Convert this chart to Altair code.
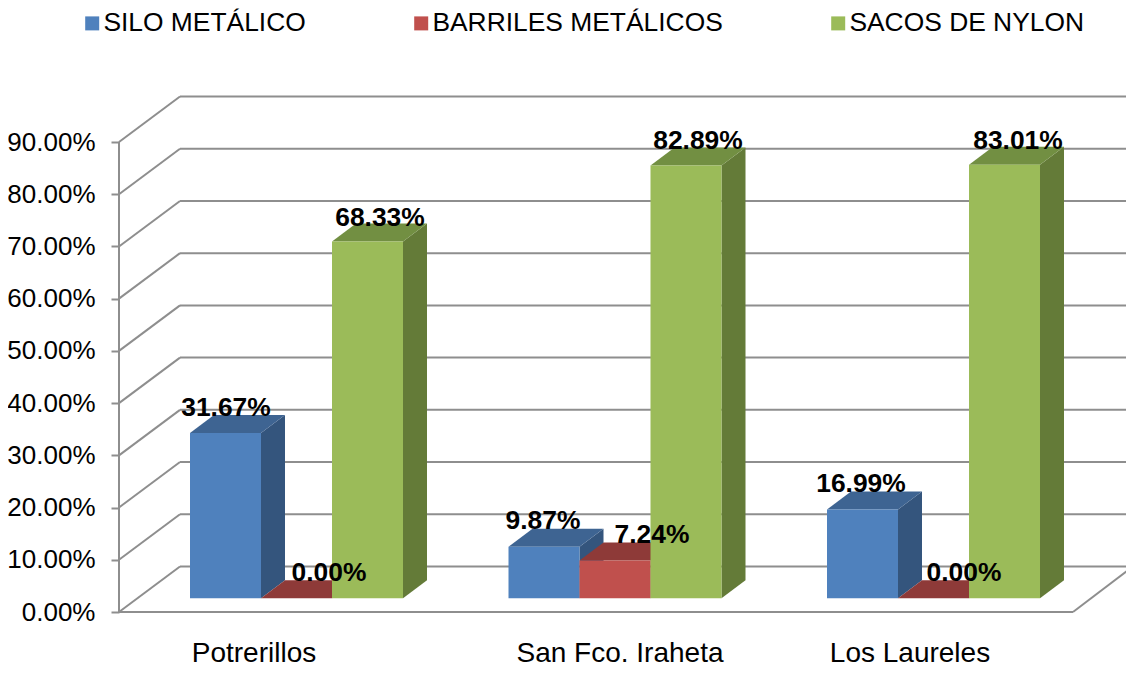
import altair as alt
import pandas as pd

categories = ["Potrerillos", "San Fco. Iraheta", "Los Laureles"]
series = ["SILO METÁLICO", "BARRILES METÁLICOS", "SACOS DE NYLON"]
silo = [31.67, 9.87, 16.99]
barriles = [0.00, 7.24, 0.00]
sacos = [68.33, 82.89, 83.01]
front_colors = ["#4F81BD", "#C0504D", "#9BBB59"]
side_colors = ["#34557D", "#8C3836", "#647B38"]
top_colors = ["#3E6492", "#8E3A38", "#728F42"]
label_dx_px = [[0.5, 32.5, 12.5], [-1, 37, 12], [-1.5, 30.5, 13.5]]
label_dy_px = [[25, 25, 23.5], [25.8, 25.5, 24.4], [25.6, 25, 23.8]]
category_label_px = [135, 501, 791]
ticks = [0, 10, 20, 30, 40, 50, 60, 70, 80, 90]

# geometry of the pseudo-3D frame, in plot pixels
W, H = 1007, 516
WALL_END = 1014
PX_PER_UNIT = 470 / 90
STEP, BAR, START = 318.5, 71, 71
WALL_DX, WALL_DV = 61, 45.5 / PX_PER_UNIT
FLOOR_RIGHT = 954
DEPTH_DX, DEPTH_DV = 24, 18 / PX_PER_UNIT
BASE = 13.7 / PX_PER_UNIT

values = [silo, barriles, sacos]
front, side, top, labels = [], [], [], []
for s, name in enumerate(series):
    for c, cat in enumerate(categories):
        v = values[s][c]
        x0 = START + c * STEP + s * BAR
        x1 = x0 + BAR
        y0, y1 = BASE, BASE + v
        bid = f"{s}-{c}"
        front.append(dict(series=name, x=x0, x2=x1, y=y0, y2=y1))
        side += [
            dict(series=name, id=bid, x=x1, y=y1, y2=y0),
            dict(series=name, id=bid, x=x1 + DEPTH_DX, y=y1 + DEPTH_DV, y2=y0 + DEPTH_DV),
        ]
        top += [
            dict(series=name, id=bid, y=y1, x=x0, x2=x1),
            dict(series=name, id=bid, y=y1 + DEPTH_DV, x=x0 + DEPTH_DX, x2=x1 + DEPTH_DX),
        ]
        labels.append(dict(
            text=f"{v:.2f}%",
            x=(x0 + x1) / 2 + label_dx_px[c][s],
            y=y1 + label_dy_px[c][s] / PX_PER_UNIT,
        ))
front, side, top = map(pd.DataFrame, (front, side, top))

grid = []
for t in ticks:
    grid.append(dict(x=0, x2=WALL_DX, y=t, y2=t + WALL_DV))
    grid.append(dict(x=WALL_DX, x2=WALL_END, y=t + WALL_DV, y2=t + WALL_DV))
grid.append(dict(x=0, x2=0, y=0, y2=90))
grid.append(dict(x=0, x2=FLOOR_RIGHT, y=0, y2=0))
grid.append(dict(x=FLOOR_RIGHT, x2=WALL_END, y=0, y2=WALL_DV))
grid = pd.DataFrame(grid)

xs = alt.Scale(domain=[0, W], nice=False, zero=False)
ys = alt.Scale(domain=[0, H / PX_PER_UNIT], nice=False, zero=False)
y_axis = alt.Axis(
    values=ticks, domain=False, grid=False, tickSize=8, tickWidth=2,
    tickColor="#8E8E8E", labelPadding=16, labelFont="Liberation Sans",
    labelFontSize=26, labelColor="#000000", title=None,
    labelExpr="format(datum.value, '.2f') + '%'")
X = alt.X("x:Q", scale=xs, axis=None)
Y = alt.Y("y:Q", scale=ys, axis=y_axis, title=None)

grid_layer = alt.Chart(grid).mark_rule(color="#8E8E8E", strokeWidth=2).encode(
    x=X, x2="x2:Q", y=Y, y2="y2:Q")

layers = [grid_layer]
for s, name in enumerate(series):
    layers.append(alt.Chart(side[side.series == name]).mark_area(
        color=side_colors[s], interpolate="linear").encode(
        x=X, y=Y, y2="y2:Q", detail="id:N"))
    layers.append(alt.Chart(top[top.series == name]).mark_area(
        color=top_colors[s], orient="horizontal", interpolate="linear").encode(
        y=Y, x=X, x2="x2:Q", detail="id:N"))
    layers.append(alt.Chart(front[front.series == name]).mark_rect(strokeWidth=0).encode(
        x=X, x2="x2:Q", y=Y, y2="y2:Q",
        color=alt.Color("series:N", title=None,
            scale=alt.Scale(domain=series, range=front_colors),
            legend=alt.Legend(
                orient="none", legendX=-40, legendY=-86, direction="horizontal",
                columns=3, columnPadding=102, symbolType="square", symbolSize=196,
                symbolStrokeWidth=0, labelOffset={"expr": "-2"}, labelFont="Liberation Sans",
                labelFontSize=26.4, labelColor="#000000", labelLimit=400,
                symbolOpacity=1))))

layers.append(alt.Chart(pd.DataFrame(labels)).mark_text(
    font="Liberation Sans", fontSize=26.4, fontWeight="bold", color="#000000",
    baseline="middle", align="center").encode(x=X, y=Y, text="text:N"))

layers.append(alt.Chart(pd.DataFrame({"name": categories, "x": category_label_px})).mark_text(
    font="Liberation Sans", fontSize=28, color="#000000",
    baseline="middle", align="center").encode(
    x=X, y=alt.value(558), text="name:N"))

chart = alt.layer(*layers).resolve_scale(color="shared").properties(
    width=W, height=H,
    autosize=alt.AutoSizeParams(type="none"),
    padding={"left": 111, "top": 88, "right": 0, "bottom": 56},
    background="#FFFFFF",
).configure_view(strokeWidth=0)

chart.save("out.html", embed_options={"renderer": "svg", "actions": False})
